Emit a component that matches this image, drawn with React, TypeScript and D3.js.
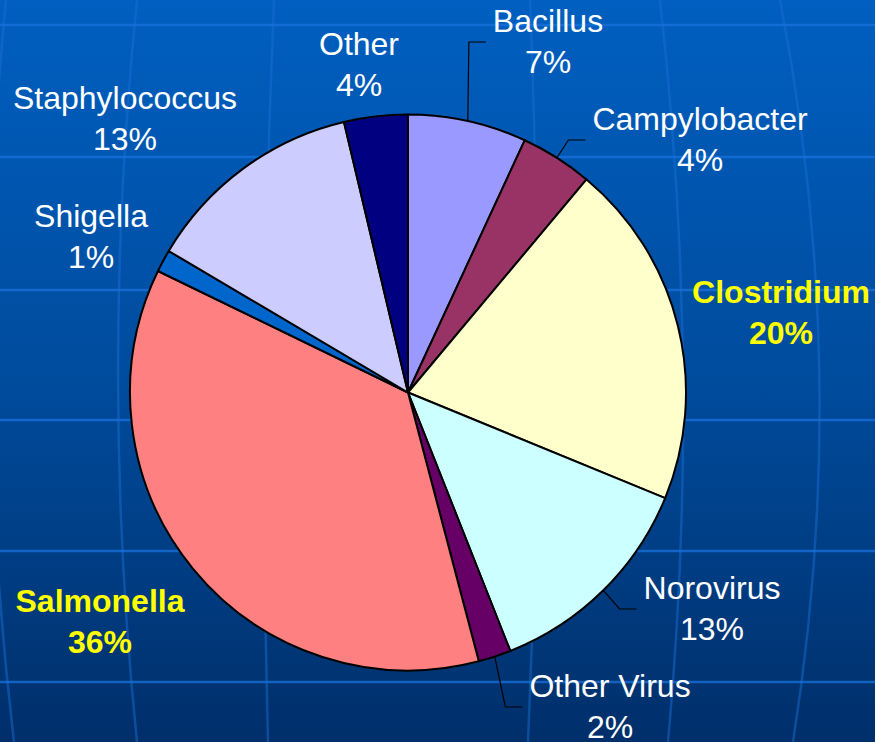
import React from 'react';
import * as d3 from 'd3';

// ---- data ----
const categories = ['Bacillus', 'Campylobacter', 'Clostridium', 'Norovirus', 'Other Virus', 'Salmonella', 'Shigella', 'Staphylococcus', 'Other'];
const values = [6.9, 4.2, 20.1, 12.8, 1.9, 36.3, 1.3, 12.8, 3.7];
const highlighted = ['Clostridium', 'Salmonella'];
const withLeader = ['Bacillus', 'Campylobacter', 'Norovirus', 'Other Virus'];

// ---- styles / layout ----
const sliceColors = ['#9999FF', '#993366', '#FFFFCC', '#CCFFFF', '#660066', '#FF8080', '#0066CC', '#CCCCFF', '#000080'];
const W = 875;
const H = 742;
const CX = 408;
const CY = 392.5;
const R = 278;
const FONT = '"Liberation Sans", Arial, Helvetica, sans-serif';
const FS = 32;
const LINE_GAP = 41;
// label anchor: [centre x, first baseline]
const labelPos: [number, number][] = [
  [548, 32], [700, 130], [781, 303], [712, 599], [610, 697],
  [100, 612], [91, 227], [125, 109], [359, 55],
];
const hLines = [25, 157, 290, 420, 551, 682];
const meridians = [
  'M 6,0 Q -30,371 14,742',
  'M 137,0 Q 99,371 137,742',
  'M 274,0 Q 258,371 268,742',
  'M 530,0 Q 545,371 528,742',
  'M 660,0 Q 702,371 668,742',
  'M 780,0 Q 852,371 793,742',
];

function measure(text: string, bold: boolean): number {
  const ctx = document.createElement('canvas').getContext('2d');
  if (!ctx) return text.length * FS * 0.5;
  ctx.font = `${bold ? 'bold ' : ''}${FS}px "Liberation Sans"`;
  return ctx.measureText(text).width;
}

export default function App() {
  const total = d3.sum(values);
  const pie = d3.pie<number>().sort(null).value((d) => d)(values);
  const arc = d3.arc<d3.PieArcDatum<number>>().innerRadius(0).outerRadius(R);

  return (
    <div style={{ position: 'fixed', left: 0, top: 0, width: W, height: H }}>
      <svg width={W} height={H} style={{ display: 'block' }}>
        <defs>
          <linearGradient id="bg" x1="0" y1="0" x2="0" y2="1">
            <stop offset="0" stopColor="#005fc0" />
            <stop offset="0.5" stopColor="#004c9e" />
            <stop offset="1" stopColor="#002f6a" />
          </linearGradient>
        </defs>
        <rect x={0} y={0} width={W} height={H} fill="url(#bg)" />
        {meridians.map((p, i) => (
          <path key={'m' + i} d={p} fill="none" stroke="#1a70d6" strokeOpacity={0.45} strokeWidth={2.5} />
        ))}
        {hLines.map((y, i) => (
          <line key={'h' + i} x1={0} x2={W} y1={y} y2={y} stroke="#1a72dc" strokeOpacity={0.75} strokeWidth={2.5} />
        ))}
        <g transform={`translate(${CX},${CY})`}>
          {pie.map((d, i) => (
            <path key={categories[i]} d={arc(d) || ''} fill={sliceColors[i]} stroke="#000" strokeWidth={2} strokeLinejoin="round" />
          ))}
        </g>
        {pie.map((d, i) => {
          const name = categories[i];
          if (!withLeader.includes(name)) return null;
          const mid = (d.startAngle + d.endAngle) / 2;
          const sx = CX + R * Math.sin(mid);
          const sy = CY - R * Math.cos(mid);
          const [lx, ly] = labelPos[i];
          const w = measure(name, false);
          const ex = lx - w / 2 - 7;
          const ey = ly + 10;
          const bx = ex - 17;
          return (
            <polyline key={'l' + i} points={`${sx},${sy} ${bx},${ey} ${ex},${ey}`} fill="none" stroke="#000" strokeWidth={1.2} />
          );
        })}
        {pie.map((d, i) => {
          const name = categories[i];
          const bold = highlighted.includes(name);
          const [lx, ly] = labelPos[i];
          const pct = Math.round((values[i] / total) * 100) + '%';
          return (
            <text key={'t' + i} x={lx} y={ly} textAnchor="middle" fontFamily={FONT} fontSize={FS}
              fontWeight={bold ? 'bold' : 'normal'} fill={bold ? '#FFFF00' : '#FFFFFF'}>
              <tspan x={lx} y={ly}>{name}</tspan>
              <tspan x={lx} y={ly + LINE_GAP}>{pct}</tspan>
            </text>
          );
        })}
      </svg>
    </div>
  );
}
